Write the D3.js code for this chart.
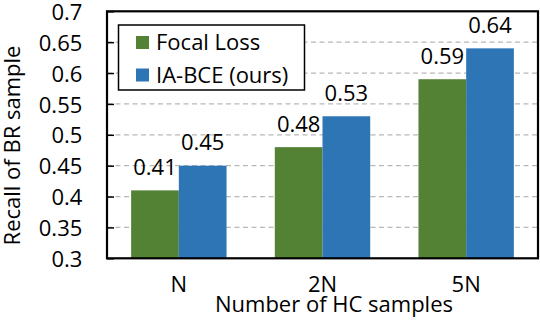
<!DOCTYPE html>
<html>
<head>
<meta charset="utf-8">
<script src="https://cdn.jsdelivr.net/npm/d3@7"></script>
<style>
  html, body { margin: 0; padding: 0; background: #fff; }
  svg { display: block; }
  text { font-family: "Open Sans", "Noto Sans", sans-serif; fill: #000; }
</style>
</head>
<body>
<svg id="chart" width="540" height="324"></svg>
<script>
const categories = ["N", "2N", "5N"];
const seriesNames = ["Focal Loss", "IA-BCE (ours)"];
const focalLoss = [0.41, 0.48, 0.59];
const iaBCE = [0.45, 0.53, 0.64];
const yTicks = [0.3, 0.35, 0.4, 0.45, 0.5, 0.55, 0.6, 0.65, 0.7];
const colors = ["#548235", "#2E75B6"];
const xTitle = "Number of HC samples";
const yTitle = "Recall of BR sample";

const W = 540, H = 324;
const margin = { top: 11.3, right: 2, bottom: 65.7, left: 107 };
const svg = d3.select("#chart");

const x0 = d3.scaleBand()
  .domain(categories)
  .range([margin.left, W - margin.right])
  .paddingInner(0.336)
  .paddingOuter(0.168);
const x1 = d3.scaleBand()
  .domain(seriesNames)
  .range([0, x0.bandwidth()]);
const y = d3.scaleLinear()
  .domain([0.3, 0.7])
  .range([H - margin.bottom, margin.top]);

const series = [focalLoss, iaBCE];
const rows = [];
categories.forEach((c, i) => {
  seriesNames.forEach((s, j) => rows.push({ cat: c, name: s, value: series[j][i], color: colors[j] }));
});

// gridlines
svg.append("g")
  .selectAll("line")
  .data(yTicks.filter(t => t > 0.3 && t < 0.7))
  .join("line")
  .attr("x1", margin.left)
  .attr("x2", W - margin.right)
  .attr("y1", d => y(d))
  .attr("y2", d => y(d))
  .attr("stroke", "#b8b8b8")
  .attr("stroke-width", 1.3)
  .attr("stroke-dasharray", "5,3.5");

// bars
svg.append("g")
  .selectAll("rect")
  .data(rows)
  .join("rect")
  .attr("x", d => x0(d.cat) + x1(d.name))
  .attr("y", d => y(d.value))
  .attr("width", x1.bandwidth())
  .attr("height", d => y(0.3) - y(d.value))
  .attr("fill", d => d.color);

// value labels
svg.append("g")
  .selectAll("text")
  .data(rows)
  .join("text")
  .attr("x", d => x0(d.cat) + x1(d.name) + x1.bandwidth() / 2)
  .attr("y", d => y(d.value) - 15.5)
  .attr("text-anchor", "middle")
  .attr("font-size", 22)
  .text(d => d3.format(".2f")(d.value));

// frame
svg.append("rect")
  .attr("x", margin.left)
  .attr("y", margin.top)
  .attr("width", W - margin.left - margin.right)
  .attr("height", H - margin.top - margin.bottom)
  .attr("fill", "none")
  .attr("stroke", "#000")
  .attr("stroke-width", 2.2);

// y axis (ticks inward, labels outside)
const yAxis = d3.axisLeft(y).tickValues(yTicks).tickSizeInner(-7).tickSizeOuter(0)
  .tickFormat(d => d3.format("")(+d.toFixed(2)));
const gy = svg.append("g").attr("transform", `translate(${margin.left},0)`).call(yAxis);
gy.select(".domain").remove();
gy.selectAll(".tick line").attr("stroke", "#000").attr("stroke-width", 1.5);
gy.selectAll(".tick text")
  .attr("x", -24.7)
  .attr("dy", "0.37em")
  .attr("font-size", 22)
  .attr("font-family", null)
  .attr("fill", "#000");

// x axis labels
const xAxis = d3.axisBottom(x0).tickSize(0).tickPadding(0);
const gx = svg.append("g").attr("transform", `translate(0,${H - margin.bottom})`).call(xAxis);
gx.select(".domain").remove();
gx.selectAll(".tick text")
  .attr("y", 33.5)
  .attr("dy", 0)
  .attr("font-size", 22)
  .attr("font-family", null)
  .attr("fill", "#000");

// axis titles
svg.append("text")
  .attr("x", 334)
  .attr("y", 312)
  .attr("text-anchor", "middle")
  .attr("font-size", 22)
  .text(xTitle);
svg.append("text")
  .attr("transform", "translate(19.5,145.5) rotate(-90)")
  .attr("text-anchor", "middle")
  .attr("font-size", 22)
  .text(yTitle);

// legend
const lg = svg.append("g");
lg.append("rect")
  .attr("x", 118.5).attr("y", 25)
  .attr("width", 186).attr("height", 65)
  .attr("fill", "#fff").attr("stroke", "#000").attr("stroke-width", 1.5);
const items = lg.selectAll("g.item")
  .data(seriesNames.map((n, i) => ({ name: n, color: colors[i] })))
  .join("g")
  .attr("class", "item")
  .attr("transform", (d, i) => `translate(0,${42.5 + i * 32.5})`);
items.append("rect")
  .attr("x", 136).attr("y", -6.5)
  .attr("width", 13).attr("height", 13)
  .attr("fill", d => d.color);
items.append("text")
  .attr("x", 156)
  .attr("y", 0)
  .attr("dy", "0.36em")
  .attr("font-size", 22)
  .text(d => d.name);
</script>
</body>
</html>
